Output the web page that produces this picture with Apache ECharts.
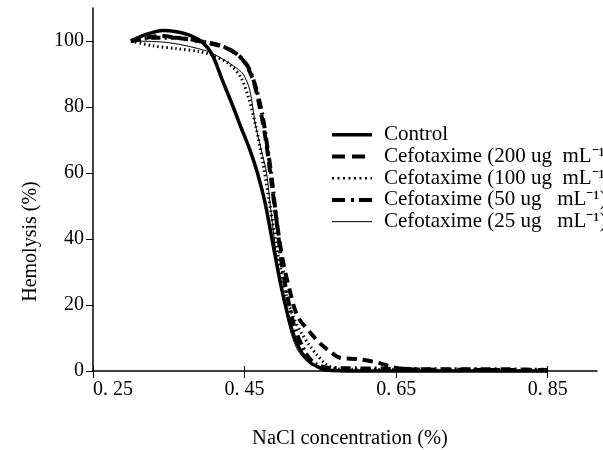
<!DOCTYPE html>
<html><head><meta charset="utf-8">
<script src="https://cdn.jsdelivr.net/npm/echarts@6/dist/echarts.min.js"></script>
<style>html,body{margin:0;padding:0;background:#fff}#c{width:603px;height:450px}</style>
</head><body><div id="c"></div>
<script>
const seriesNames = ['Control', 'Cefotaxime (200 ug  mL\u207B\u00B9)', 'Cefotaxime (100 ug  mL\u207B\u00B9)', 'Cefotaxime (50 ug   mL\u207B\u00B9)', 'Cefotaxime (25 ug   mL\u207B\u00B9)'];
const xTicks = [0.25, 0.45, 0.65, 0.85];
const yTicks = [0, 20, 40, 60, 80, 100];

const controlX = [0.30, 0.32, 0.342, 0.36, 0.378, 0.395, 0.408, 0.42, 0.435, 0.445, 0.457, 0.467, 0.477, 0.487, 0.497, 0.507, 0.517, 0.527, 0.537, 0.547, 0.557, 0.6, 0.7, 0.85];
const controlY = [100, 102, 103.2, 102.8, 101.7, 99.5, 95.5, 88.5, 80, 74, 67, 60, 51, 39, 27, 17, 9.5, 5, 2.5, 1.2, 0.3, 0, 0, 0];

const c200X = [0.30, 0.34, 0.365, 0.39, 0.424, 0.445, 0.46, 0.47, 0.478, 0.485, 0.492, 0.50, 0.51, 0.52, 0.536, 0.55, 0.565, 0.576, 0.60, 0.628, 0.645, 0.66, 0.70, 0.85];
const c200Y = [100, 101.5, 100.8, 100, 98, 95, 89, 80, 70, 58, 46, 34, 24, 16.5, 11.8, 8.3, 5.5, 4, 3.6, 2.4, 1.2, 0.6, 0.4, 0.3];

const c100X = [0.30, 0.33, 0.36, 0.39, 0.41, 0.43, 0.445, 0.455, 0.465, 0.475, 0.485, 0.495, 0.505, 0.515, 0.525, 0.535, 0.545, 0.555, 0.565, 0.58, 0.62, 0.66, 0.72, 0.85];
const c100Y = [100, 98.5, 97.7, 96.8, 95.5, 93, 89, 83, 74, 62, 48, 34, 23, 16, 11.5, 8, 5, 2.5, 1, 0.5, 0.5, 0.3, 0.2, 0];

const c50X = [0.30, 0.33, 0.36, 0.39, 0.42, 0.44, 0.455, 0.466, 0.474, 0.48, 0.485, 0.49, 0.495, 0.50, 0.507, 0.515, 0.525, 0.535, 0.545, 0.56, 0.60, 0.65, 0.70, 0.75, 0.80, 0.85];
const c50Y = [100, 101, 101, 100, 98.5, 96, 92, 85, 77, 68, 60, 50, 40, 31, 22, 14, 8, 4, 2, 1, 0.8, 0.7, 0.5, 0.5, 0.5, 0.3];

const c25X = [0.30, 0.35, 0.40, 0.4175, 0.435, 0.448, 0.457, 0.464, 0.472, 0.479, 0.485, 0.492, 0.499, 0.505, 0.512, 0.52, 0.53, 0.54, 0.553, 0.57, 0.60, 0.85];
const c25Y = [100, 99.5, 97, 95, 92.5, 90, 85, 75, 67, 60, 48, 35, 25, 17.5, 11, 6.4, 3.5, 2, 1.2, 0.3, 0, 0];

const zip = (xs, ys) => xs.map((x, i) => [x, ys[i]]);
const font = 'Liberation Serif';
const styles = [
  {width: 3.5, type: 'solid'},
  {width: 4, type: [10, 6]},
  {width: 3, type: [1.5, 3]},
  {width: 4, type: [10, 4, 2, 4]},
  {width: 1, type: 'solid'}
];
const legendStyles = [
  {width: 3.5, type: 'solid'},
  {width: 4, type: [13, 7]},
  {width: 2.5, type: [2, 3.5]},
  {width: 4, type: [13, 6, 3, 5]},
  {width: 1, type: 'solid'}
];
const datasets = [zip(controlX, controlY), zip(c200X, c200Y), zip(c100X, c100Y), zip(c50X, c50Y), zip(c25X, c25Y)];

const chart = echarts.init(document.getElementById('c'));
chart.setOption({
  animation: false,
  backgroundColor: '#fff',
  grid: {left: 93, right: 6, top: 8, bottom: 79, containLabel: false, outerBoundsMode: 'none'},
  legend: {
    orient: 'vertical', left: 330, top: 124, padding: 0, itemGap: 0,
    itemWidth: 40, itemHeight: 14,
    itemStyle: {opacity: 0},
    textStyle: {fontFamily: font, fontSize: 21, color: '#000', lineHeight: 21.7, padding: [0, 0, 0, 7]},
    data: seriesNames.map((n, i) => ({name: n, lineStyle: {color: '#000', width: legendStyles[i].width, type: legendStyles[i].type, cap: 'butt'}}))
  },
  xAxis: [{
    type: 'value', min: 0.25, max: 0.915, position: 'bottom',
    name: 'NaCl concentration (%)', nameLocation: 'middle', nameGap: 57,
    nameTextStyle: {fontFamily: font, fontSize: 20.5, color: '#000', padding: [0, 0, 0, 10]},
    axisLine: {lineStyle: {color: '#000', width: 1.5}},
    axisTick: {show: true, length: 7, customValues: xTicks, lineStyle: {color: '#000', width: 1}},
    axisLabel: {customValues: xTicks, fontFamily: font, fontSize: 20, color: '#000', margin: 9,
      alignMinLabel: 'left',
      formatter: v => v.toFixed(2).replace('.', '. ')},
    splitLine: {show: false}
  }, {
    type: 'value', min: 0.25, max: 0.915, position: 'bottom',
    axisLine: {show: false},
    axisTick: {show: true, inside: true, length: 5, customValues: xTicks, lineStyle: {color: '#000', width: 1}},
    axisLabel: {show: false},
    splitLine: {show: false}
  }],
  yAxis: {
    type: 'value', min: 0, max: 110,
    name: 'Hemolysis (%)', nameLocation: 'middle', nameGap: 52,
    nameTextStyle: {fontFamily: font, fontSize: 20, color: '#000', padding: [0, 104, 0, 0]},
    axisLine: {show: true, lineStyle: {color: '#000', width: 1.5}},
    axisTick: {show: true, length: 7, customValues: yTicks, lineStyle: {color: '#000', width: 1}},
    axisLabel: {customValues: yTicks, fontFamily: font, fontSize: 20, color: '#000', margin: 9},
    splitLine: {show: false}
  },
  series: seriesNames.map((n, i) => ({
    name: n, type: 'line', xAxisIndex: 0, data: datasets[i],
    symbol: 'none', smooth: 0.3, clip: false,
    lineStyle: {color: '#000', width: styles[i].width, type: styles[i].type, cap: 'butt'},
    itemStyle: {color: '#000'},
    z: 5 - i
  }))
});
</script></body></html>
